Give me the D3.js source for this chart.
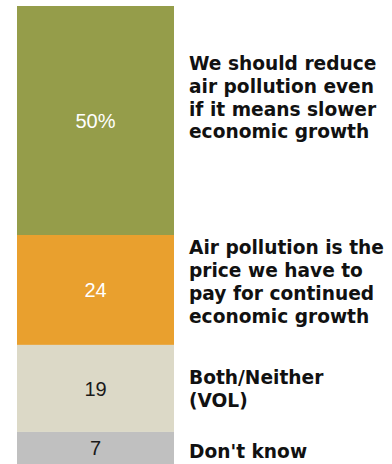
<!DOCTYPE html>
<html>
<head>
<meta charset="utf-8">
<script src="https://cdn.jsdelivr.net/npm/d3@7"></script>
<style>
  html, body { margin: 0; padding: 0; background: #fff; }
  svg { display: block; }
</style>
</head>
<body>
<svg id="chart" width="392" height="464"></svg>
<script>
// Survey responses: trade-off between air pollution and economic growth
const categories = [
  "We should reduce air pollution even if it means slower economic growth",
  "Air pollution is the price we have to pay for continued economic growth",
  "Both/Neither (VOL)",
  "Don't know"
];
const values = [50, 24, 19, 7];
const valueLabels = ["50%", "24", "19", "7"];
// Category labels broken into display lines
const labelLines = [
  ["We should reduce", "air pollution even", "if it means slower", "economic growth"],
  ["Air pollution is the", "price we have to", "pay for continued", "economic growth"],
  ["Both/Neither", "(VOL)"],
  ["Don't know"]
];
const colors = ["#959d4a", "#e9a02e", "#dcd9c7", "#c0c0c0"];
const valueTextColors = ["#ffffff", "#ffffff", "#1a1a1a", "#1a1a1a"];

const svg = d3.select("#chart");
const W = 392, H = 464;

// Stack the single column
let acc = 0;
const segs = values.map((v, i) => {
  const s = { i, v, y0: acc, y1: acc + v };
  acc += v;
  return s;
});

const y = d3.scaleLinear().domain([0, d3.sum(values)]).range([6, 464]);
const x = d3.scaleBand().domain(["all"]).range([17, 174]).padding(0);

svg.selectAll("rect.seg")
  .data(segs)
  .join("rect")
  .attr("class", "seg")
  .attr("x", x("all"))
  .attr("width", x.bandwidth())
  .attr("y", d => y(d.y0))
  .attr("height", d => y(d.y1) - y(d.y0))
  .attr("fill", d => colors[d.i]);

// Values inside each segment
svg.selectAll("text.val")
  .data(segs)
  .join("text")
  .attr("class", "val")
  .attr("x", x("all") + x.bandwidth() / 2)
  .attr("y", d => (y(d.y0) + y(d.y1)) / 2)
  .attr("dy", "0.36em")
  .attr("text-anchor", "middle")
  .attr("font-family", "'Liberation Sans', Arial, sans-serif")
  .attr("font-size", 20)
  .attr("fill", d => valueTextColors[d.i])
  .text(d => valueLabels[d.i]);

// Category labels to the right, offset from each segment's midpoint
const lineH = 22.8;
const labelShift = [-23, -8, 0, 3];
const labels = svg.selectAll("text.cat")
  .data(segs)
  .join("text")
  .attr("class", "cat")
  .attr("font-family", "'DejaVu Sans', sans-serif")
  .attr("font-weight", "bold")
  .attr("font-size", 18.6)
  .attr("fill", "#111");

labels.each(function(d) {
  const lines = labelLines[d.i];
  const mid = (y(d.y0) + y(d.y1)) / 2 + labelShift[d.i];
  const first = mid - (lines.length - 1) * lineH / 2;
  d3.select(this).selectAll("tspan")
    .data(lines)
    .join("tspan")
    .attr("x", 189)
    .attr("y", (l, k) => first + k * lineH)
    .attr("dy", "0.36em")
    .text(l => l);
});
</script>
</body>
</html>
